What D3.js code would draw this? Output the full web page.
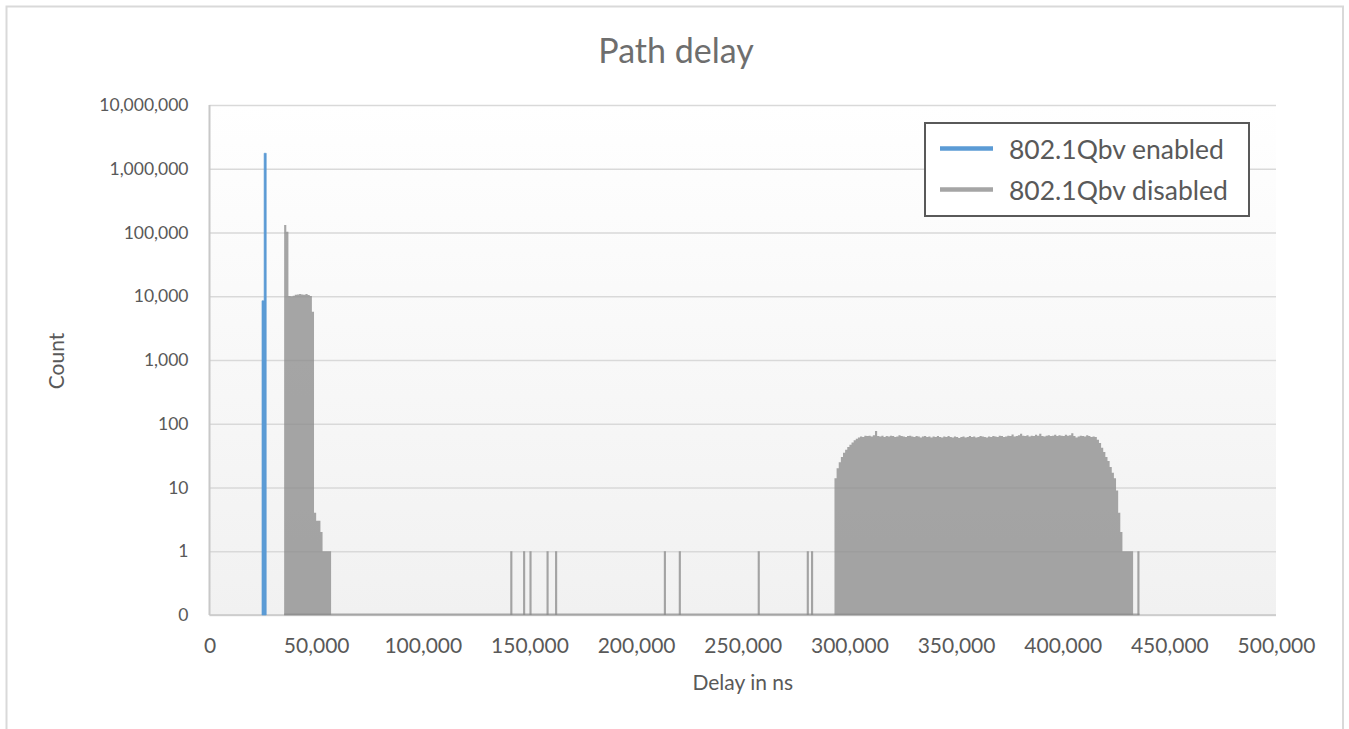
<!DOCTYPE html>
<html>
<head>
<meta charset="utf-8">
<script src="https://cdn.jsdelivr.net/npm/d3@7"></script>
<style>
	body { margin: 0; background: #ffffff; }
	svg { display: block; font-family: Lato, "Open Sans", sans-serif; }
</style>
</head>
<body>
<svg id="chart" width="1349" height="729"></svg>
<script>

// histogram bins are 1,000 ns wide, each run lists consecutive bins from its start
var binWidth = 1000;

var enabledStarts = [24600];
var enabledCounts = [[8500, 1750000]];

var disabledStarts = [35000, 141000, 147000, 150000, 158000, 162000, 213000, 220000, 257000, 280000, 282000, 293000, 435000];
var disabledCounts = [
	[131000, 103000, 10100, 10000, 10200, 10600, 10700, 10800, 10700, 10600, 10800, 10500, 10100,
		5700, 4, 3, 3, 2, 1, 1, 1, 1],
	[1], [1], [1], [1], [1], [1], [1], [1], [1], [1],
	[14, 20, 25, 30, 35, 39, 43, 47, 51, 55, 58, 61, 63, 62, 65,
		64, 65, 63, 66, 77, 64, 63, 65, 62, 64,
		63, 65, 64, 62, 63, 66, 64, 63, 62, 64,
		65, 63, 62, 64, 63, 61, 63, 64, 62, 63,
		61, 63, 62, 64, 62, 61, 63, 62, 64, 62,
		61, 63, 62, 60, 62, 63, 61, 62, 64, 62,
		63, 61, 62, 64, 63, 62, 61, 63, 62, 64,
		63, 62, 65, 64, 62, 63, 65, 64, 68, 63,
		64, 66, 70, 65, 64, 66, 63, 65, 64, 67,
		65, 70, 64, 63, 65, 66, 64, 65, 67, 64,
		66, 65, 64, 67, 65, 66, 71, 64, 61, 63,
		65, 64, 63, 66, 64, 62, 63,
		62, 56, 50, 42, 36, 30, 26, 21, 17, 14, 9, 4, 2, 1, 1, 1, 1, 1],
	[1]
];

var seriesNames = ["802.1Qbv enabled", "802.1Qbv disabled"];
var seriesColors = ["#5b9bd5", "#a5a5a5"];

var yTicks = [0.1, 1, 10, 100, 1000, 10000, 100000, 1000000, 10000000];
var xTicks = [0, 50000, 100000, 150000, 200000, 250000, 300000, 350000, 400000, 450000, 500000];

var chartTitle = "Path delay";
var xTitle = "Delay in ns";
var yTitle = "Count";

function renderHistogram(element) {

	var svg = d3.select(element);

	var left = 209.5, right = 1276, top = 105, bottom = 615;
	var textColor = "#595959";

	var x = d3.scaleLinear()
		.domain([0, 500000])
		.range([left, right]);

	var y = d3.scaleLog()
		.domain([0.1, 10000000])
		.range([bottom, top]);

	var fmt = d3.format(",.0f");

	//outer chart frame
	svg.append("rect")
		.attr("x", 6.5)
		.attr("y", 6.5)
		.attr("width", 1336.5)
		.attr("height", 760)
		.attr("fill", "#ffffff")
		.attr("stroke", "#d9d9d9")
		.attr("stroke-width", 2);

	var defs = svg.append("defs");
	var grad = defs.append("linearGradient")
		.attr("id", "plotBg")
		.attr("x1", 0).attr("y1", 0)
		.attr("x2", 0).attr("y2", 1);
	grad.append("stop").attr("offset", "0%").attr("stop-color", "#ffffff");
	grad.append("stop").attr("offset", "100%").attr("stop-color", "#f1f1f1");

	svg.append("rect")
		.attr("x", left)
		.attr("y", top)
		.attr("width", right - left)
		.attr("height", bottom - top)
		.attr("fill", "url(#plotBg)");

	//y axis with gridlines
	var yAxis = svg.append("g")
		.attr("transform", "translate(" + left + ",0)")
		.call(d3.axisLeft(y)
			.tickValues(yTicks)
			.tickFormat(fmt)
			.tickSize(-(right - left))
			.tickPadding(21));

	yAxis.select(".domain").remove();
	yAxis.selectAll(".tick line")
		.attr("stroke", "#d9d9d9")
		.attr("stroke-width", 1.5);
	yAxis.selectAll(".tick text")
		.attr("fill", textColor)
		.attr("font-size", "17.5px")
		.attr("font-family", "Lato");

	//left axis line
	svg.append("line")
		.attr("x1", left).attr("x2", left)
		.attr("y1", top).attr("y2", bottom)
		.attr("stroke", "#c8c8c8")
		.attr("stroke-width", 2);

	svg.append("line")
		.attr("x1", left).attr("x2", right)
		.attr("y1", bottom).attr("y2", bottom)
		.attr("stroke", "#c8c8c8")
		.attr("stroke-width", 1.5);

	//x axis labels
	var xAxis = svg.append("g")
		.attr("transform", "translate(0," + bottom + ")")
		.call(d3.axisBottom(x)
			.tickValues(xTicks)
			.tickFormat(fmt)
			.tickSize(0)
			.tickPadding(23));

	xAxis.select(".domain").remove();
	xAxis.selectAll(".tick text")
		.attr("fill", textColor)
		.attr("font-size", "21px")
		.attr("font-family", "Lato");

	//turn runs of bins into a stepped outline that sits on the axis floor between runs
	function outline(starts, counts) {

		var pts = [];
		starts.forEach(function(s, r) {
			pts.push([s, 0.1]);
			counts[r].forEach(function(c, i) {
				pts.push([s + i * binWidth, c]);
				pts.push([s + (i + 1) * binWidth, c]);
			});
			pts.push([s + counts[r].length * binWidth, 0.1]);
		});
		return pts;

	}

	var line = d3.line()
		.x(d => x(d[0]))
		.y(d => y(d[1]));

	var disabledPts = outline(disabledStarts, disabledCounts);
	var enabledPts = outline(enabledStarts, enabledCounts);

	//floor line of the disabled series (zero counts drawn on the axis)
	svg.append("line")
		.attr("x1", x(disabledPts[0][0]))
		.attr("x2", x(disabledPts[disabledPts.length - 1][0]))
		.attr("y1", bottom - 0.5)
		.attr("y2", bottom - 0.5)
		.attr("stroke", seriesColors[1])
		.attr("stroke-width", 2);

	svg.append("path")
		.attr("d", line(disabledPts) + "Z")
		.attr("fill", "#8a8a8a")
		.attr("fill-opacity", 0.76)
		.attr("stroke", "none");

	svg.append("path")
		.attr("d", line(enabledPts) + "Z")
		.attr("fill", seriesColors[0])
		.attr("stroke", seriesColors[0])
		.attr("stroke-width", 0.6);

	//titles
	svg.append("text")
		.attr("x", 676)
		.attr("y", 63)
		.attr("text-anchor", "middle")
		.attr("font-size", "34px")
		.attr("fill", "#6e6e6e")
		.text(chartTitle);

	svg.append("text")
		.attr("x", (left + right) / 2)
		.attr("y", 690)
		.attr("text-anchor", "middle")
		.attr("font-size", "21px")
		.attr("fill", textColor)
		.text(xTitle);

	svg.append("text")
		.attr("transform", "translate(64,361) rotate(-90)")
		.attr("text-anchor", "middle")
		.attr("font-size", "21px")
		.attr("fill", textColor)
		.text(yTitle);

	//legend
	var legend = svg.append("g");

	legend.append("rect")
		.attr("x", 925)
		.attr("y", 123)
		.attr("width", 324)
		.attr("height", 93)
		.attr("fill", "#ffffff")
		.attr("stroke", "#595959")
		.attr("stroke-width", 2);

	var items = legend.selectAll("g.item")
		.data(seriesNames)
		.enter()
		.append("g")
		.attr("class", "item")
		.attr("transform", (_, i) => "translate(0," + (148.5 + i * 41) + ")");

	items.append("line")
		.attr("x1", 940)
		.attr("x2", 993)
		.attr("stroke", (_, i) => seriesColors[i])
		.attr("stroke-width", 4.5);

	items.append("text")
		.attr("x", 1009)
		.attr("y", 10)
		.attr("font-size", "26.5px")
		.attr("fill", textColor)
		.text(d => d);

}

renderHistogram("#chart");

</script>
</body>
</html>
